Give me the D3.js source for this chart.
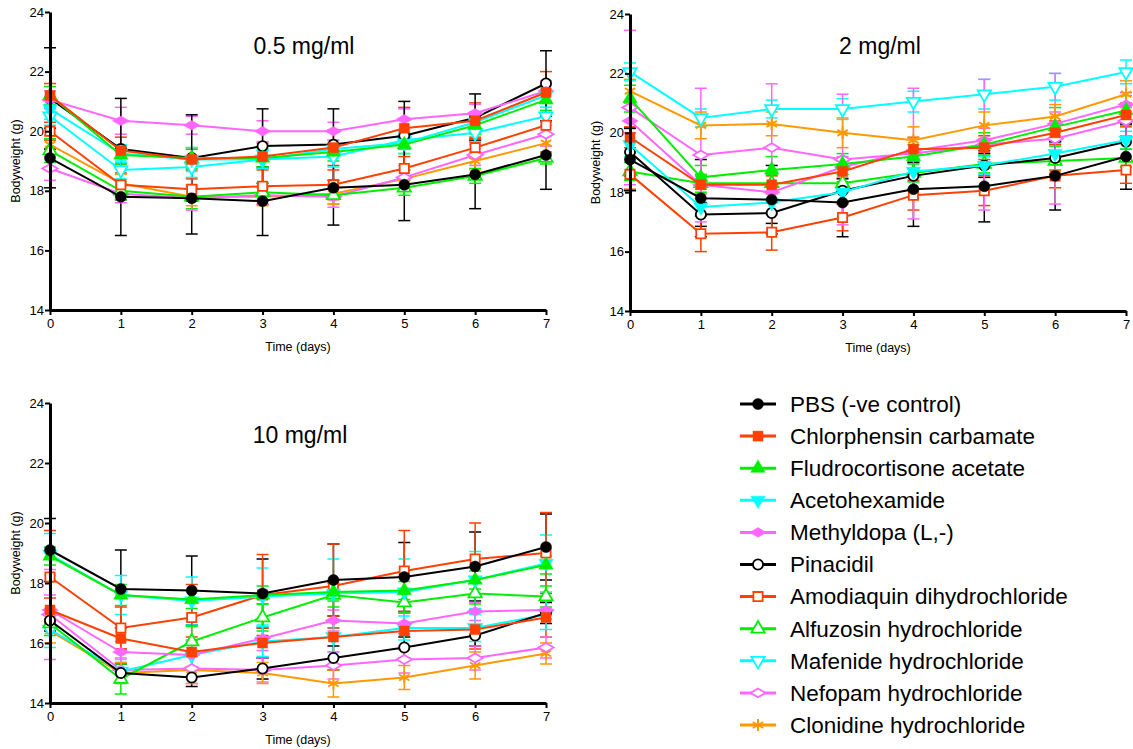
<!DOCTYPE html>
<html>
<head>
<meta charset="utf-8">
<script src="https://cdn.jsdelivr.net/npm/d3@7"></script>
<style>
  body { margin: 0; background: #fff; }
  svg text { font-family: "Liberation Sans", Arial, sans-serif; fill: #000; }
</style>
</head>
<body>
<svg id="chart" width="1133" height="749"></svg>
<script>
var days = [0, 1, 2, 3, 4, 5, 6, 7];
var yTicks = [14, 16, 18, 20, 22, 24];

var seriesNames = [
    "PBS (-ve control)", "Chlorphensin carbamate", "Fludrocortisone acetate",
    "Acetohexamide", "Methyldopa (L,-)", "Pinacidil", "Amodiaquin dihydrochloride",
    "Alfuzosin hydrochloride", "Mafenide hydrochloride", "Nefopam hydrochloride",
    "Clonidine hydrochloride"
];

// 0.5 mg/ml
var mean05 = [
    [19.1, 17.8, 17.75, 17.65, 18.1, 18.2, 18.55, 19.2],
    [21.2, 19.35, 19.05, 19.15, 19.45, 20.1, 20.35, 21.3],
    [21.2, 19.2, 19.1, 19.1, 19.3, 19.55, 20.2, 21.05],
    [20.75, 19.25, 19.05, 19.05, 19.4, 19.6, 20.3, 21.2],
    [21.05, 20.35, 20.2, 20.0, 20.0, 20.4, 20.6, 21.35],
    [21.1, 19.4, 19.1, 19.5, 19.55, 19.85, 20.45, 21.6],
    [20.0, 18.2, 18.05, 18.15, 18.2, 18.75, 19.45, 20.2],
    [19.35, 18.0, 17.8, 17.95, 17.85, 18.1, 18.5, 19.1],
    [20.5, 18.7, 18.8, 19.05, 19.15, 19.7, 19.95, 20.5],
    [18.75, 17.9, 17.75, 17.85, 17.8, 18.45, 19.2, 19.9],
    [19.55, 18.25, 17.8, 17.8, 17.9, 18.4, 19.0, 19.6]
];
var sd05 = [
    [1.0, 1.3, 1.2, 1.15, 1.25, 1.2, 1.15, 1.15],
    [0.4, 0.45, 0.35, 0.45, 0.6, 0.7, 0.6, 0.7],
    [0.3, 0.3, 0.35, 0.3, 0.3, 0.3, 0.3, 0.35],
    [0.35, 0.3, 0.4, 0.3, 0.3, 0.35, 0.35, 0.4],
    [0.3, 0.45, 0.3, 0.35, 0.3, 0.35, 0.3, 0.35],
    [1.7, 1.7, 1.45, 1.25, 1.2, 1.15, 0.8, 1.1],
    [0.3, 0.4, 0.35, 0.6, 0.5, 0.4, 0.35, 0.35],
    [0.4, 0.3, 0.4, 0.3, 0.3, 0.25, 0.25, 0.2],
    [0.3, 0.3, 0.35, 0.3, 0.35, 0.3, 0.3, 0.3],
    [0.4, 0.3, 0.4, 0.3, 0.35, 0.4, 0.35, 0.4],
    [0.3, 0.3, 0.3, 0.3, 0.35, 0.3, 0.3, 0.3]
];

// 2 mg/ml
var mean2 = [
    [19.1, 17.8, 17.75, 17.65, 18.1, 18.2, 18.55, 19.2],
    [19.85, 18.25, 18.25, 18.7, 19.45, 19.5, 20.0, 20.6],
    [21.15, 18.5, 18.75, 18.95, 19.2, 19.6, 20.2, 20.75],
    [19.6, 17.5, 17.65, 18.0, 18.7, 18.9, 19.3, 19.75],
    [20.4, 18.25, 18.0, 18.85, 19.4, 19.75, 20.3, 20.95],
    [19.35, 17.25, 17.3, 18.05, 18.55, 18.9, 19.15, 19.7],
    [18.6, 16.6, 16.65, 17.15, 17.9, 18.05, 18.55, 18.75],
    [18.7, 18.3, 18.3, 18.3, 18.65, 18.95, 19.05, 19.15],
    [22.05, 20.5, 20.8, 20.8, 21.05, 21.3, 21.55, 22.05],
    [20.85, 19.25, 19.5, 19.1, 19.3, 19.6, 19.8, 20.4],
    [21.4, 20.25, 20.3, 20.0, 19.75, 20.25, 20.55, 21.3]
];
var sd2 = [
    [1.05, 1.3, 1.15, 1.15, 1.25, 1.2, 1.15, 1.1],
    [0.35, 0.3, 0.3, 0.35, 0.4, 0.4, 0.4, 0.4],
    [0.45, 0.4, 0.45, 0.35, 0.4, 0.4, 0.65, 0.5],
    [0.4, 0.3, 0.35, 0.3, 0.35, 0.3, 0.35, 0.3],
    [0.4, 0.3, 0.3, 0.35, 0.4, 0.4, 0.4, 0.4],
    [0.8, 0.4, 0.35, 0.4, 0.45, 0.4, 0.55, 0.6],
    [0.5, 0.6, 0.6, 0.45, 0.5, 0.5, 0.4, 0.45],
    [0.3, 0.3, 0.3, 0.3, 0.3, 0.3, 0.3, 0.3],
    [0.3, 0.3, 0.3, 0.35, 0.35, 0.5, 0.45, 0.4],
    [2.6, 2.25, 2.15, 2.2, 2.2, 2.2, 2.2, 0.5],
    [0.4, 0.45, 0.4, 0.5, 0.45, 0.45, 0.4, 0.45]
];

// 10 mg/ml
var mean10 = [
    [19.1, 17.8, 17.75, 17.65, 18.1, 18.2, 18.55, 19.2],
    [17.1, 16.15, 15.7, 16.0, 16.2, 16.4, 16.45, 16.85],
    [18.9, 17.6, 17.45, 17.6, 17.7, 17.75, 18.1, 18.6],
    [18.95, 17.6, 17.4, 17.55, 17.65, 17.7, 18.1, 18.65],
    [17.1, 15.7, 15.6, 16.15, 16.75, 16.65, 17.05, 17.1],
    [16.75, 15.0, 14.85, 15.15, 15.5, 15.85, 16.25, 17.0],
    [18.2, 16.5, 16.85, 17.6, 17.9, 18.4, 18.8, 19.0],
    [16.65, 14.8, 16.05, 16.85, 17.6, 17.35, 17.65, 17.55],
    [16.45, 15.05, 15.6, 16.05, 16.2, 16.5, 16.5, 16.95],
    [16.95, 15.1, 15.15, 15.1, 15.25, 15.45, 15.5, 15.85],
    [16.4, 15.0, 15.1, 15.0, 14.65, 14.85, 15.25, 15.65]
];
var sd10 = [
    [1.05, 1.3, 1.15, 1.15, 1.2, 1.15, 1.15, 1.1],
    [0.4, 0.35, 0.5, 0.5, 0.7, 0.6, 0.65, 0.65],
    [0.3, 0.35, 0.3, 0.3, 0.3, 0.3, 0.3, 0.3],
    [0.7, 0.65, 0.8, 0.95, 1.15, 1.1, 0.95, 0.95],
    [0.5, 0.35, 0.5, 0.4, 0.35, 0.35, 0.3, 0.3],
    [0.35, 0.3, 0.3, 0.35, 0.4, 0.35, 0.35, 0.35],
    [1.55, 0.7, 1.1, 1.35, 1.4, 1.35, 1.2, 1.35],
    [0.4, 0.5, 0.5, 0.45, 0.4, 0.35, 0.35, 0.35],
    [0.6, 0.4, 0.45, 0.5, 0.5, 0.4, 0.45, 0.5],
    [1.5, 0.4, 0.5, 0.4, 0.45, 0.45, 0.4, 0.35],
    [0.4, 0.35, 0.45, 0.35, 0.45, 0.4, 0.45, 0.35]
];

/********************************************************/

var colors = ["#000000", "#ff4000", "#00ee00", "#00ffff", "#ff66ff",
              "#000000", "#ff4000", "#00ee00", "#00ffff", "#ff66ff", "#ff9900"];
var shapes = ["circle", "square", "up", "down", "diamond",
              "circle", "square", "up", "down", "diamond", "star"];
var filled = [true, true, true, true, true, false, false, false, false, false, false];

var svg = d3.select("#chart");

function drawMarker(g, i, x, y) {
    var sym, rot = 0, size;
    if (shapes[i] == "star") {
        var s = g.append("g").attr("transform", `translate(${x},${y})`);
        [0, 60, 120].forEach(function (a) {
            s.append("line")
                .attr("x1", 0).attr("y1", -6).attr("x2", 0).attr("y2", 6)
                .attr("transform", `rotate(${a})`)
                .attr("stroke", colors[i]).attr("stroke-width", 2);
        });
        return;
    }
    if (shapes[i] == "circle") { sym = d3.symbolCircle; size = 95; }
    if (shapes[i] == "square") { sym = d3.symbolSquare; size = 100; }
    if (shapes[i] == "up") { sym = d3.symbolTriangle; size = 90; }
    if (shapes[i] == "down") { sym = d3.symbolTriangle; size = 90; rot = 180; }
    if (shapes[i] == "diamond") { sym = d3.symbolDiamond; size = 80; rot = 90; }
    if (!filled[i]) size = size * 0.85;
    g.append("path")
        .attr("d", d3.symbol().type(sym).size(size)())
        .attr("transform", `translate(${x},${y}) rotate(${rot})`)
        .attr("fill", filled[i] ? colors[i] : "#fff")
        .attr("stroke", colors[i])
        .attr("stroke-width", filled[i] ? 0.5 : 1.8);
}

function drawPanel(cfg) {
    var x = d3.scaleLinear().domain([0, 7]).range([cfg.left, cfg.right]);
    var y = d3.scaleLinear().domain([14, 24]).range([cfg.bottom, cfg.top]);

    var plot = svg.append("g");

    // error bars
    cfg.means.forEach(function (m, i) {
        var eg = plot.append("g").attr("stroke", colors[i]).attr("stroke-width", 1.5);
        days.forEach(function (d, j) {
            var lo = m[j] - cfg.sd[i][j], hi = m[j] + cfg.sd[i][j];
            eg.append("line").attr("x1", x(d)).attr("x2", x(d)).attr("y1", y(lo)).attr("y2", y(hi));
            eg.append("line").attr("x1", x(d) - 6).attr("x2", x(d) + 6).attr("y1", y(lo)).attr("y2", y(lo));
            eg.append("line").attr("x1", x(d) - 6).attr("x2", x(d) + 6).attr("y1", y(hi)).attr("y2", y(hi));
        });
    });

    // lines + markers
    var line = d3.line().x(function (d, j) { return x(days[j]); }).y(function (d) { return y(d); });
    for (var i = cfg.means.length - 1; i >= 0; i--) {
        plot.append("path")
            .attr("d", line(cfg.means[i]))
            .attr("fill", "none")
            .attr("stroke", colors[i])
            .attr("stroke-width", 2);
        days.forEach(function (d, j) {
            drawMarker(plot, i, x(d), y(cfg.means[i][j]));
        });
    }

    // axes
    var leftAxis = d3.axisLeft(y).tickValues(yTicks).tickSize(5).tickSizeOuter(0)
        .tickFormat(d3.format("d"));
    var bottomAxis = d3.axisBottom(x).tickValues(days).tickSize(5).tickSizeOuter(0)
        .tickFormat(d3.format("d"));

    var ya = svg.append("g").attr("transform", `translate(${cfg.left},0)`).call(leftAxis);
    var xa = svg.append("g").attr("transform", `translate(0,${cfg.bottom})`).call(bottomAxis);
    [ya, xa].forEach(function (a) {
        a.select(".domain").attr("stroke-width", 3);
        a.selectAll(".tick line").attr("stroke-width", 2);
        a.selectAll("text").attr("font-size", 13)
            .attr("font-family", "Liberation Sans, Arial, sans-serif");
    });
    ya.selectAll("text").attr("x", -6);
    xa.selectAll("text").attr("y", 9);

    svg.append("text")
        .attr("x", cfg.titleX).attr("y", cfg.titleY)
        .attr("text-anchor", "middle")
        .attr("font-size", 23)
        .text(cfg.title);

    svg.append("text")
        .attr("x", (cfg.left + cfg.right) / 2).attr("y", cfg.bottom + 41)
        .attr("text-anchor", "middle")
        .attr("font-size", 12.5)
        .text("Time (days)");

    svg.append("text")
        .attr("transform", `translate(${cfg.left - 30},${(cfg.top + cfg.bottom) / 2}) rotate(-90)`)
        .attr("text-anchor", "middle")
        .attr("font-size", 12.5)
        .text("Bodyweight (g)");
}

drawPanel({ means: mean05, sd: sd05, left: 50, right: 546, top: 12, bottom: 310,
            title: "0.5 mg/ml", titleX: 304, titleY: 54 });
drawPanel({ means: mean2, sd: sd2, left: 630, right: 1126, top: 14, bottom: 311,
            title: "2 mg/ml", titleX: 880, titleY: 54 });
drawPanel({ means: mean10, sd: sd10, left: 50, right: 546, top: 403, bottom: 703,
            title: "10 mg/ml", titleX: 300, titleY: 443 });

/********************************************************/

var legend = svg.append("g").attr("transform", "translate(740,404)");
seriesNames.forEach(function (name, i) {
    var row = legend.append("g").attr("transform", `translate(0,${i * 32.1})`);
    row.append("line")
        .attr("x1", 0).attr("x2", 36).attr("y1", 0).attr("y2", 0)
        .attr("stroke", colors[i]).attr("stroke-width", 3);
    drawMarker(row, i, 18, 0);
    row.append("text")
        .attr("x", 50).attr("y", 0).attr("dy", "0.35em")
        .attr("font-size", 22.5)
        .text(name);
});
</script>
</body>
</html>
